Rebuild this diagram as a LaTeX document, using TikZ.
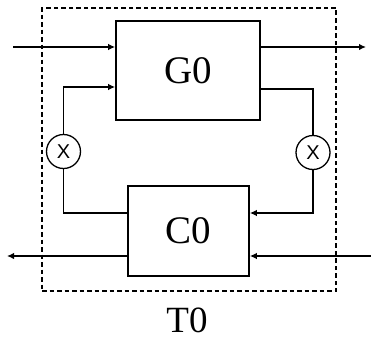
\documentclass[tikz,border=0pt]{standalone}
\usepackage{fontspec}
\setmainfont{Liberation Serif}
\newfontfamily\sansx{Liberation Sans}
\usetikzlibrary{arrows.meta,calc}
\begin{document}
\begin{tikzpicture}[x=1pt,y=-1pt,
  blk/.style={draw,line width=1.6pt,inner sep=0pt,font=\fontsize{39}{42}\selectfont},
  mult/.style={draw,circle,line width=1.3pt,minimum size=34pt,inner sep=0pt,font=\sansx\fontsize{20}{22}\selectfont},
  wire/.style={line width=1.5pt},
  arr/.style={wire,-{Latex[length=7pt,width=6.5pt]}},
  frame/.style={draw,line width=1.3pt,dash pattern=on 4.5pt off 3pt,inner sep=0pt}]
\useasboundingbox (0,0) rectangle (371,340);
\node[frame,minimum width=294pt,minimum height=283pt] (T) at (189,149.5) {};
\node[blk,minimum width=144pt,minimum height=99pt] (G0) at (188,70.5) {G0};
\node[blk,minimum width=121pt,minimum height=90pt] (C0) at (188.5,231) {C0};
\node[mult] (xL) at (63.5,151.5) {X};
\node[mult] (xR) at (313,152.5) {X};
\node[inner sep=0pt,anchor=base,font=\fontsize{37}{40}\selectfont] (lab) at (187,332) {T0};
\coordinate (in1) at (13,47);
\coordinate (out1) at (366,47);
\coordinate (in2) at (371,256);
\coordinate (out2) at (7,256);
\draw[arr] (in1) -- (in1 -| G0.west);
\draw[arr] (G0.east |- out1) -- (out1);
\draw[arr] (xL.north) |- ([yshift=-16.5pt]G0.west);
\draw[wire] ([yshift=-18.5pt]G0.east) -| (xR.north);
\draw[wire] (xL.south) |- ([yshift=18pt]C0.west);
\draw[arr] (xR.south) |- ([yshift=18pt]C0.east);
\draw[arr] (in2) -- (in2 -| C0.east);
\draw[arr] (out2 -| C0.west) -- (out2);
\end{tikzpicture}
\end{document}
